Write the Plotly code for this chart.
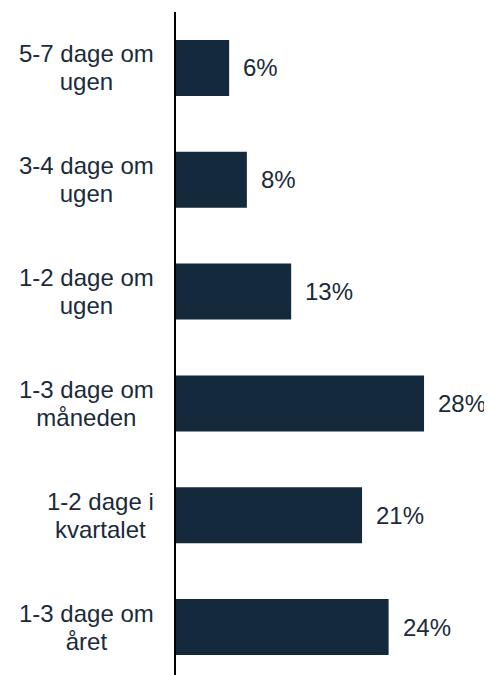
import plotly.graph_objects as go

categories = ["5-7 dage om<br>ugen", "3-4 dage om<br>ugen", "1-2 dage om<br>ugen",
              "1-3 dage om<br>måneden", "1-2 dage i<br>kvartalet", "1-3 dage om<br>året"]
values = [6, 8, 13, 28, 21, 24]
value_labels = ["6%", "8%", "13%", "28%", "21%", "24%"]

BAR = "#15293d"
TXT = "#1b2a3a"
FONT = "Liberation Sans, Arial, sans-serif"

fig = go.Figure(go.Bar(
    x=values, y=categories, orientation="h",
    marker=dict(color=BAR, line=dict(width=0)),
    hoverinfo="skip",
))

ann = []
for c, v, t in zip(categories, values, value_labels):
    ann.append(dict(x=v, y=c, xref="x", yref="y", text=t, showarrow=False,
                    xanchor="left", yanchor="middle", xshift=12,
                    font=dict(family=FONT, size=24, color=TXT)))
    styled = "<br>".join('<span style="font-size:24px">%s</span>' % p for p in c.split("<br>"))
    ann.append(dict(x=0, y=c, xref="paper", yref="y", text=styled, showarrow=False,
                    xanchor="right", yanchor="middle", align="center", xshift=-20,
                    font=dict(family=FONT, size=21.5, color=TXT)))

fig.update_layout(
    width=484, height=675,
    margin=dict(l=168, r=0, t=4, b=0),
    paper_bgcolor="white", plot_bgcolor="white",
    bargap=0.5,
    showlegend=False,
    annotations=ann,
    xaxis=dict(range=[0, 35.67], showgrid=False, zeroline=False,
               showticklabels=False, showline=False, fixedrange=True),
    yaxis=dict(autorange="reversed", showgrid=False, zeroline=False,
               showticklabels=False, showline=True, linecolor="black",
               linewidth=1.5, ticks="", fixedrange=True),
)

fig.write_html("out.html", config={"displayModeBar": False})
